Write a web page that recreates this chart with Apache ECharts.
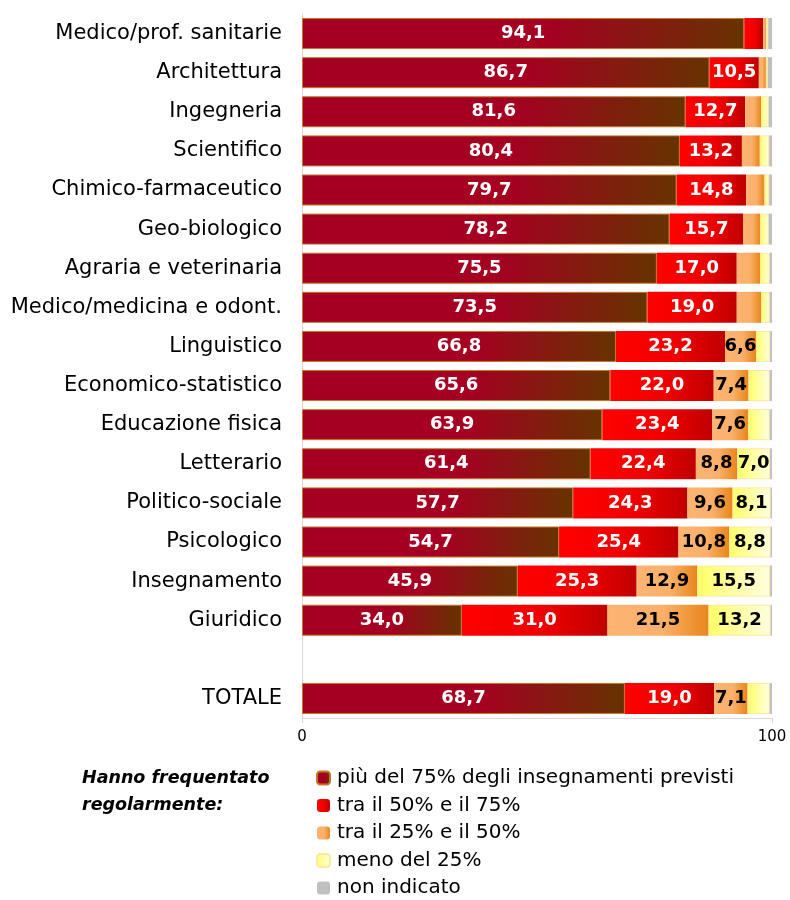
<!DOCTYPE html>
<html>
<head>
<meta charset="utf-8">
<script src="https://cdn.jsdelivr.net/npm/echarts@6/dist/echarts.min.js"></script>
<style>
    html, body { margin: 0; padding: 0; background: #ffffff; }
    #chart { width: 790px; height: 900px; }
</style>
</head>
<body>
<div id="chart"></div>
<script>
    // gruppi disciplinari (riga vuota prima del totale)
    const categories = [
        'Medico/prof. sanitarie', 'Architettura', 'Ingegneria', 'Scientifico',
        'Chimico-farmaceutico', 'Geo-biologico', 'Agraria e veterinaria',
        'Medico/medicina e odont.', 'Linguistico', 'Economico-statistico',
        'Educazione fisica', 'Letterario', 'Politico-sociale', 'Psicologico',
        'Insegnamento', 'Giuridico', '', 'TOTALE'
    ]
    const oltre75 = [94.1, 86.7, 81.6, 80.4, 79.7, 78.2, 75.5, 73.5, 66.8, 65.6, 63.9, 61.4, 57.7, 54.7, 45.9, 34.0, null, 68.7]
    const tra50e75 = [4.0, 10.5, 12.7, 13.2, 14.8, 15.7, 17.0, 19.0, 23.2, 22.0, 23.4, 22.4, 24.3, 25.4, 25.3, 31.0, null, 19.0]
    const tra25e50 = [0.6, 1.5, 3.4, 3.8, 3.9, 3.6, 5.0, 5.2, 6.6, 7.4, 7.6, 8.8, 9.6, 10.8, 12.9, 21.5, null, 7.1]
    const meno25 = [0.5, 0.4, 1.6, 2.0, 1.0, 1.8, 2.0, 1.8, 3.0, 4.5, 4.6, 7.0, 8.1, 8.8, 15.5, 13.2, null, 4.7]
    const nonIndicato = [0.8, 0.9, 0.7, 0.6, 0.6, 0.7, 0.5, 0.5, 0.4, 0.5, 0.5, 0.4, 0.3, 0.3, 0.4, 0.3, null, 0.5]
    const xTicks = [0, 100]

    const font = '"DejaVu Sans", sans-serif'

    function grad(stops) {
        return new echarts.graphic.LinearGradient(0, 0, 1, 0,
            stops.map(s => ({offset: s[0], color: s[1]})))
    }

    function label(color) {
        return {
            show: true,
            position: 'inside',
            color: color,
            fontFamily: font,
            fontWeight: 'bold',
            fontSize: 18,
            formatter: p => (p.value >= 6 ? p.value.toFixed(1).replace('.', ',') : '')
        }
    }

    const chart = echarts.init(document.getElementById('chart'))
    chart.setOption({
        animation: false,
        textStyle: {fontFamily: font},
        grid: {left: 302, right: 18, top: 14, bottom: 182},
        xAxis: {
            type: 'value',
            min: xTicks[0],
            max: xTicks[1],
            interval: 100,
            axisLine: {show: true, lineStyle: {color: '#d9d9d9'}},
            axisTick: {show: true, length: 5, lineStyle: {color: '#d9d9d9'}},
            axisLabel: {color: '#000', fontSize: 15, margin: 12},
            splitLine: {show: false}
        },
        yAxis: {
            type: 'category',
            inverse: true,
            data: categories,
            axisLine: {show: true, lineStyle: {color: '#d9d9d9'}},
            axisTick: {show: false},
            axisLabel: {color: '#000', fontSize: 21, margin: 20}
        },
        legend: {
            orient: 'vertical',
            left: 316,
            top: 768,
            padding: 0,
            itemWidth: 13,
            itemHeight: 13,
            itemGap: 7.5,
            textStyle: {color: '#000', fontSize: 20, lineHeight: 20, fontFamily: font, padding: [0, 0, 0, 2]},
            data: ['più del 75% degli insegnamenti previsti', 'tra il 50% e il 75%',
                'tra il 25% e il 50%', 'meno del 25%', 'non indicato']
        },
        graphic: [{
            type: 'text',
            left: 82,
            top: 765,
            style: {
                text: 'Hanno frequentato\nregolarmente:',
                font: 'italic bold 17.5px ' + font,
                fill: '#000',
                lineHeight: 27
            }
        }],
        series: [
            {
                name: 'più del 75% degli insegnamenti previsti',
                type: 'bar', stack: 'tot', barWidth: 31,
                data: oltre75,
                itemStyle: {
                    color: grad([[0, '#a50021'], [0.55, '#a50021'], [1, '#663300']]),
                    borderColor: '#c0782a', borderWidth: 1
                },
                label: label('#ffffff')
            },
            {
                name: 'tra il 50% e il 75%',
                type: 'bar', stack: 'tot', barWidth: 31,
                data: tra50e75,
                itemStyle: {color: grad([[0, '#ff0000'], [0.55, '#f00000'], [1, '#c00000']])},
                label: label('#ffffff')
            },
            {
                name: 'tra il 25% e il 50%',
                type: 'bar', stack: 'tot', barWidth: 31,
                data: tra25e50,
                itemStyle: {color: grad([[0, '#fcb472'], [0.55, '#fbb06a'], [1, '#e8861a']])},
                label: label('#000000')
            },
            {
                name: 'meno del 25%',
                type: 'bar', stack: 'tot', barWidth: 31,
                data: meno25,
                itemStyle: {
                    color: grad([[0, '#ffff66'], [0.4, '#ffff99'], [1, '#ffffe0']]),
                    borderColor: '#ffe9a0', borderWidth: 1
                },
                label: label('#000000')
            },
            {
                name: 'non indicato',
                type: 'bar', stack: 'tot', barWidth: 31,
                data: nonIndicato,
                itemStyle: {color: '#c0c0c0'},
                label: {show: false}
            }
        ]
    })
</script>
</body>
</html>
